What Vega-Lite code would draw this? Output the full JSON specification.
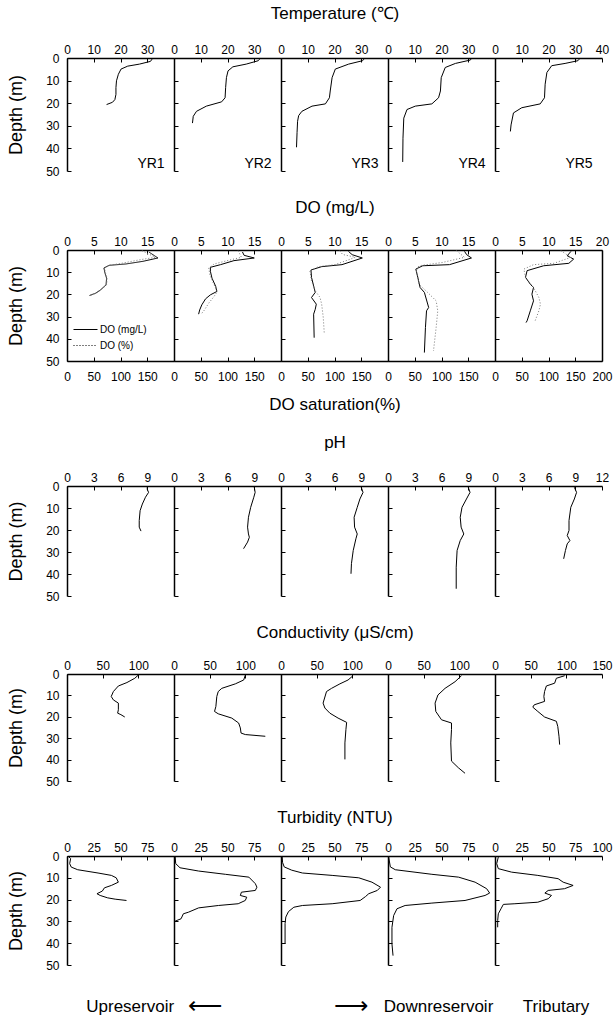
{
"$schema":"https://vega.github.io/schema/vega-lite/v6.json",
"padding":{"left":7,"top":4,"right":4,"bottom":0},
"spacing":21,
"config":{
 "view":{"stroke":null},
 "font":"Liberation Sans",
 "axis":{"domainColor":"black","domainWidth":1.5,"tickColor":"black","tickWidth":1,"tickSize":-4,"labelColor":"black","labelFontSize":12,"labelFont":"Liberation Sans","titleFont":"Liberation Sans","titleFontSize":17,"titleFontWeight":"normal","titleColor":"black","grid":false,"labelFlush":false,"labelOverlap":false},
 "axisX":{"labelPadding":6},
 "axisY":{"labelPadding":12,"titleFontSize":18,"titlePadding":20},
 "text":{"font":"Liberation Sans","color":"black"},
 "legend":{"labelFont":"Liberation Sans","labelColor":"black"}
},
"datasets":{
"temp":[
{"st":"YR1","d":0.5,"v":31.8},{"st":"YR1","d":1.5,"v":31.2},{"st":"YR1","d":2.7,"v":27.1},{"st":"YR1","d":3.6,"v":22.7},{"st":"YR1","d":4.9,"v":20.2},{"st":"YR1","d":7.2,"v":19.2},{"st":"YR1","d":10.1,"v":18.5},{"st":"YR1","d":13.1,"v":18.3},{"st":"YR1","d":16.1,"v":18.3},{"st":"YR1","d":18.4,"v":17.9},{"st":"YR1","d":19.6,"v":17.0},{"st":"YR1","d":20.6,"v":14.8},
{"st":"YR2","d":0.5,"v":32.0},{"st":"YR2","d":1.2,"v":31.5},{"st":"YR2","d":2.7,"v":27.0},{"st":"YR2","d":3.9,"v":22.0},{"st":"YR2","d":5.7,"v":20.2},{"st":"YR2","d":8.7,"v":19.6},{"st":"YR2","d":13.1,"v":19.3},{"st":"YR2","d":17.6,"v":19.1},{"st":"YR2","d":19.4,"v":17.8},{"st":"YR2","d":21.3,"v":12.1},{"st":"YR2","d":23.6,"v":8.4},{"st":"YR2","d":25.8,"v":7.2},{"st":"YR2","d":28.8,"v":6.9},
{"st":"YR3","d":0.5,"v":31.0},{"st":"YR3","d":1.2,"v":30.5},{"st":"YR3","d":2.7,"v":25.3},{"st":"YR3","d":4.9,"v":20.3},{"st":"YR3","d":8.7,"v":19.1},{"st":"YR3","d":14.6,"v":18.4},{"st":"YR3","d":17.6,"v":18.1},{"st":"YR3","d":20.3,"v":16.6},{"st":"YR3","d":21.3,"v":11.6},{"st":"YR3","d":23.6,"v":7.8},{"st":"YR3","d":25.5,"v":6.6},{"st":"YR3","d":28,"v":6.2},{"st":"YR3","d":33,"v":6.0},{"st":"YR3","d":39.5,"v":5.8},
{"st":"YR4","d":0.5,"v":31.0},{"st":"YR4","d":0.9,"v":30.8},{"st":"YR4","d":2.4,"v":25.2},{"st":"YR4","d":4.2,"v":21.4},{"st":"YR4","d":8.7,"v":19.9},{"st":"YR4","d":14.6,"v":19.6},{"st":"YR4","d":17.6,"v":18.9},{"st":"YR4","d":20.3,"v":16.4},{"st":"YR4","d":21.3,"v":10.2},{"st":"YR4","d":22.8,"v":7.1},{"st":"YR4","d":26.6,"v":5.9},{"st":"YR4","d":35.5,"v":5.6},{"st":"YR4","d":46,"v":5.5},
{"st":"YR5","d":0.5,"v":31.5},{"st":"YR5","d":1.2,"v":31.0},{"st":"YR5","d":2.4,"v":26.2},{"st":"YR5","d":3.4,"v":21.2},{"st":"YR5","d":6.4,"v":19.4},{"st":"YR5","d":11.6,"v":18.75},{"st":"YR5","d":17.6,"v":18.5},{"st":"YR5","d":20.3,"v":16.9},{"st":"YR5","d":22,"v":10},{"st":"YR5","d":24.3,"v":6.9},{"st":"YR5","d":29.6,"v":6.0},{"st":"YR5","d":32.5,"v":5.75}
],
"do":[
{"st":"YR1","s":"DO (mg/L)","d":0.9,"v":15.3},{"st":"YR1","s":"DO (mg/L)","d":3.6,"v":17.0},{"st":"YR1","s":"DO (mg/L)","d":5.1,"v":14.2},{"st":"YR1","s":"DO (mg/L)","d":6.3,"v":11.0},{"st":"YR1","s":"DO (mg/L)","d":6.9,"v":7.9},{"st":"YR1","s":"DO (mg/L)","d":8.1,"v":6.9},{"st":"YR1","s":"DO (mg/L)","d":10.4,"v":7.1},{"st":"YR1","s":"DO (mg/L)","d":12.7,"v":7.4},{"st":"YR1","s":"DO (mg/L)","d":15.7,"v":7.3},{"st":"YR1","s":"DO (mg/L)","d":17.9,"v":6.3},{"st":"YR1","s":"DO (mg/L)","d":19.4,"v":5.4},{"st":"YR1","s":"DO (mg/L)","d":20.5,"v":4.2},
{"st":"YR1","s":"DO (%)","d":0.3,"v":140},{"st":"YR1","s":"DO (%)","d":3.3,"v":165},{"st":"YR1","s":"DO (%)","d":4.4,"v":136},{"st":"YR1","s":"DO (%)","d":5.9,"v":104},{"st":"YR1","s":"DO (%)","d":6.9,"v":79},{"st":"YR1","s":"DO (%)","d":8.1,"v":70},{"st":"YR1","s":"DO (%)","d":10.4,"v":72},{"st":"YR1","s":"DO (%)","d":12.7,"v":75},{"st":"YR1","s":"DO (%)","d":15.7,"v":74},{"st":"YR1","s":"DO (%)","d":17.9,"v":64},{"st":"YR1","s":"DO (%)","d":19.4,"v":55},{"st":"YR1","s":"DO (%)","d":20.5,"v":43},
{"st":"YR2","s":"DO (mg/L)","d":0.9,"v":12.8},{"st":"YR2","s":"DO (mg/L)","d":2.4,"v":13.1},{"st":"YR2","s":"DO (mg/L)","d":3.6,"v":15.0},{"st":"YR2","s":"DO (mg/L)","d":4.8,"v":11.2},{"st":"YR2","s":"DO (mg/L)","d":6.6,"v":8.7},{"st":"YR2","s":"DO (mg/L)","d":7.8,"v":6.8},{"st":"YR2","s":"DO (mg/L)","d":9.6,"v":6.8},{"st":"YR2","s":"DO (mg/L)","d":12.7,"v":7.1},{"st":"YR2","s":"DO (mg/L)","d":16.4,"v":7.8},{"st":"YR2","s":"DO (mg/L)","d":18.7,"v":8.0},{"st":"YR2","s":"DO (mg/L)","d":20.2,"v":6.8},{"st":"YR2","s":"DO (mg/L)","d":22,"v":5.9},{"st":"YR2","s":"DO (mg/L)","d":24.7,"v":5.2},{"st":"YR2","s":"DO (mg/L)","d":27,"v":4.8},{"st":"YR2","s":"DO (mg/L)","d":28.9,"v":4.6},
{"st":"YR2","s":"DO (%)","d":0.3,"v":120},{"st":"YR2","s":"DO (%)","d":3.3,"v":126},{"st":"YR2","s":"DO (%)","d":4.4,"v":106},{"st":"YR2","s":"DO (%)","d":6.3,"v":75},{"st":"YR2","s":"DO (%)","d":8.1,"v":65},{"st":"YR2","s":"DO (%)","d":11.1,"v":67},{"st":"YR2","s":"DO (%)","d":15.7,"v":75},{"st":"YR2","s":"DO (%)","d":18.7,"v":81},{"st":"YR2","s":"DO (%)","d":20.9,"v":75},{"st":"YR2","s":"DO (%)","d":23.9,"v":65},{"st":"YR2","s":"DO (%)","d":27,"v":57},{"st":"YR2","s":"DO (%)","d":28.5,"v":52},
{"st":"YR3","s":"DO (mg/L)","d":0.6,"v":12.6},{"st":"YR3","s":"DO (mg/L)","d":2.1,"v":13.3},{"st":"YR3","s":"DO (mg/L)","d":3.6,"v":15.2},{"st":"YR3","s":"DO (mg/L)","d":6.6,"v":11.4},{"st":"YR3","s":"DO (mg/L)","d":7.5,"v":7.6},{"st":"YR3","s":"DO (mg/L)","d":9.0,"v":5.6},{"st":"YR3","s":"DO (mg/L)","d":12.3,"v":5.7},{"st":"YR3","s":"DO (mg/L)","d":19.1,"v":6.4},{"st":"YR3","s":"DO (mg/L)","d":21.4,"v":5.7},{"st":"YR3","s":"DO (mg/L)","d":24.4,"v":6.6},{"st":"YR3","s":"DO (mg/L)","d":26.7,"v":6.4},{"st":"YR3","s":"DO (mg/L)","d":28.9,"v":6.1},{"st":"YR3","s":"DO (mg/L)","d":39.5,"v":6.2},
{"st":"YR3","s":"DO (%)","d":0.3,"v":110},{"st":"YR3","s":"DO (%)","d":2.0,"v":115},{"st":"YR3","s":"DO (%)","d":3.3,"v":139},{"st":"YR3","s":"DO (%)","d":6.6,"v":101},{"st":"YR3","s":"DO (%)","d":7.5,"v":70},{"st":"YR3","s":"DO (%)","d":9.3,"v":54},{"st":"YR3","s":"DO (%)","d":13.9,"v":57},{"st":"YR3","s":"DO (%)","d":18.4,"v":64},{"st":"YR3","s":"DO (%)","d":21.4,"v":73},{"st":"YR3","s":"DO (%)","d":24.4,"v":76},{"st":"YR3","s":"DO (%)","d":30.4,"v":79},{"st":"YR3","s":"DO (%)","d":38,"v":81},
{"st":"YR4","s":"DO (mg/L)","d":0.6,"v":14.3},{"st":"YR4","s":"DO (mg/L)","d":2.1,"v":14.7},{"st":"YR4","s":"DO (mg/L)","d":3.6,"v":15.6},{"st":"YR4","s":"DO (mg/L)","d":6.6,"v":11.5},{"st":"YR4","s":"DO (mg/L)","d":7.1,"v":6.5},{"st":"YR4","s":"DO (mg/L)","d":8.6,"v":5.2},{"st":"YR4","s":"DO (mg/L)","d":11.6,"v":5.5},{"st":"YR4","s":"DO (mg/L)","d":16.9,"v":6.0},{"st":"YR4","s":"DO (mg/L)","d":19.1,"v":6.8},{"st":"YR4","s":"DO (mg/L)","d":25.9,"v":7.6},{"st":"YR4","s":"DO (mg/L)","d":27.4,"v":7.2},{"st":"YR4","s":"DO (mg/L)","d":34.9,"v":7.0},{"st":"YR4","s":"DO (mg/L)","d":46.2,"v":6.8},
{"st":"YR4","s":"DO (%)","d":0.3,"v":128},{"st":"YR4","s":"DO (%)","d":3.3,"v":143},{"st":"YR4","s":"DO (%)","d":5.6,"v":102},{"st":"YR4","s":"DO (%)","d":7.1,"v":58},{"st":"YR4","s":"DO (%)","d":9.3,"v":53},{"st":"YR4","s":"DO (%)","d":15.4,"v":58},{"st":"YR4","s":"DO (%)","d":19.1,"v":74},{"st":"YR4","s":"DO (%)","d":22.9,"v":90},{"st":"YR4","s":"DO (%)","d":27.4,"v":93},{"st":"YR4","s":"DO (%)","d":34.9,"v":90},{"st":"YR4","s":"DO (%)","d":45.5,"v":85},
{"st":"YR5","s":"DO (mg/L)","d":0.6,"v":14.2},{"st":"YR5","s":"DO (mg/L)","d":2.6,"v":13.5},{"st":"YR5","s":"DO (mg/L)","d":4.1,"v":14.7},{"st":"YR5","s":"DO (mg/L)","d":6.0,"v":13.8},{"st":"YR5","s":"DO (mg/L)","d":7.1,"v":9.1},{"st":"YR5","s":"DO (mg/L)","d":9.3,"v":6.0},{"st":"YR5","s":"DO (mg/L)","d":12.3,"v":5.7},{"st":"YR5","s":"DO (mg/L)","d":15.4,"v":6.6},{"st":"YR5","s":"DO (mg/L)","d":16.9,"v":7.2},{"st":"YR5","s":"DO (mg/L)","d":19.9,"v":6.9},{"st":"YR5","s":"DO (mg/L)","d":22.9,"v":7.2},{"st":"YR5","s":"DO (mg/L)","d":27.4,"v":6.6},{"st":"YR5","s":"DO (mg/L)","d":31.9,"v":6.0},{"st":"YR5","s":"DO (mg/L)","d":32.7,"v":5.8},
{"st":"YR5","s":"DO (%)","d":0.3,"v":123},{"st":"YR5","s":"DO (%)","d":3.3,"v":142},{"st":"YR5","s":"DO (%)","d":6.0,"v":110},{"st":"YR5","s":"DO (%)","d":6.6,"v":72},{"st":"YR5","s":"DO (%)","d":8.6,"v":54},{"st":"YR5","s":"DO (%)","d":12.3,"v":57},{"st":"YR5","s":"DO (%)","d":16.9,"v":72},{"st":"YR5","s":"DO (%)","d":21.4,"v":82},{"st":"YR5","s":"DO (%)","d":24.4,"v":85},{"st":"YR5","s":"DO (%)","d":27.4,"v":82},{"st":"YR5","s":"DO (%)","d":31.9,"v":75}
],
"ph":[
{"st":"YR1","d":0.5,"v":9.0},{"st":"YR1","d":1.5,"v":9.0},{"st":"YR1","d":2.9,"v":9.15},{"st":"YR1","d":5.1,"v":8.8},{"st":"YR1","d":8.2,"v":8.45},{"st":"YR1","d":11.2,"v":8.2},{"st":"YR1","d":15.7,"v":8.1},{"st":"YR1","d":18.7,"v":8.1},{"st":"YR1","d":20.5,"v":8.3},
{"st":"YR2","d":0.5,"v":9.0},{"st":"YR2","d":2.9,"v":9.1},{"st":"YR2","d":5.1,"v":8.95},{"st":"YR2","d":9.7,"v":8.6},{"st":"YR2","d":14.2,"v":8.35},{"st":"YR2","d":18.7,"v":8.25},{"st":"YR2","d":21.8,"v":8.35},{"st":"YR2","d":23.3,"v":8.45},{"st":"YR2","d":25.5,"v":8.25},{"st":"YR2","d":28.5,"v":7.8},
{"st":"YR3","d":0.6,"v":9.0},{"st":"YR3","d":2.9,"v":9.2},{"st":"YR3","d":5.9,"v":8.85},{"st":"YR3","d":9.7,"v":8.55},{"st":"YR3","d":14.2,"v":8.2},{"st":"YR3","d":18.7,"v":8.25},{"st":"YR3","d":21.8,"v":8.55},{"st":"YR3","d":24,"v":8.4},{"st":"YR3","d":29.3,"v":8.1},{"st":"YR3","d":35.3,"v":7.9},{"st":"YR3","d":39.9,"v":7.85},
{"st":"YR4","d":0.6,"v":9.0},{"st":"YR4","d":2.9,"v":9.2},{"st":"YR4","d":5.9,"v":8.8},{"st":"YR4","d":9.7,"v":8.3},{"st":"YR4","d":14.2,"v":8.1},{"st":"YR4","d":18.7,"v":8.2},{"st":"YR4","d":21.8,"v":8.5},{"st":"YR4","d":24.8,"v":8.1},{"st":"YR4","d":29.3,"v":7.75},{"st":"YR4","d":36.9,"v":7.65},{"st":"YR4","d":46.7,"v":7.65},
{"st":"YR5","d":0.6,"v":8.9},{"st":"YR5","d":2.9,"v":9.15},{"st":"YR5","d":5.9,"v":8.9},{"st":"YR5","d":9.7,"v":8.5},{"st":"YR5","d":15.7,"v":8.3},{"st":"YR5","d":20.2,"v":8.3},{"st":"YR5","d":22.5,"v":8.1},{"st":"YR5","d":24.8,"v":8.4},{"st":"YR5","d":26.3,"v":8.1},{"st":"YR5","d":29.3,"v":7.9},{"st":"YR5","d":33.1,"v":7.7}
],
"cond":[
{"st":"YR1","d":0.5,"v":100},{"st":"YR1","d":2,"v":95},{"st":"YR1","d":4,"v":84},{"st":"YR1","d":5.6,"v":72},{"st":"YR1","d":8.2,"v":65},{"st":"YR1","d":10.5,"v":62},{"st":"YR1","d":12.1,"v":65},{"st":"YR1","d":13.6,"v":72},{"st":"YR1","d":16.7,"v":72},{"st":"YR1","d":18.3,"v":71},{"st":"YR1","d":19,"v":75.6},{"st":"YR1","d":20.1,"v":81},
{"st":"YR2","d":0.5,"v":100},{"st":"YR2","d":2.8,"v":97.7},{"st":"YR2","d":4.6,"v":86},{"st":"YR2","d":6.7,"v":67},{"st":"YR2","d":8.2,"v":62},{"st":"YR2","d":10.5,"v":60},{"st":"YR2","d":15.2,"v":58.7},{"st":"YR2","d":17.5,"v":56.8},{"st":"YR2","d":18.6,"v":62},{"st":"YR2","d":20.6,"v":81},{"st":"YR2","d":22.9,"v":90.6},{"st":"YR2","d":25.2,"v":93},{"st":"YR2","d":27.6,"v":94},{"st":"YR2","d":28.3,"v":100},{"st":"YR2","d":29.1,"v":128},
{"st":"YR3","d":0.8,"v":101},{"st":"YR3","d":2.8,"v":94},{"st":"YR3","d":4.6,"v":82.6},{"st":"YR3","d":6.7,"v":70.9},{"st":"YR3","d":8.2,"v":63.8},{"st":"YR3","d":13.6,"v":59},{"st":"YR3","d":15.9,"v":61.5},{"st":"YR3","d":18.3,"v":68.5},{"st":"YR3","d":20.6,"v":80},{"st":"YR3","d":22.6,"v":92},{"st":"YR3","d":26,"v":91},{"st":"YR3","d":32.2,"v":89.6},{"st":"YR3","d":39.9,"v":89.6},
{"st":"YR4","d":0.8,"v":103},{"st":"YR4","d":3.6,"v":94},{"st":"YR4","d":6.7,"v":80},{"st":"YR4","d":9.8,"v":70},{"st":"YR4","d":13.6,"v":66},{"st":"YR4","d":17.5,"v":67},{"st":"YR4","d":21.4,"v":75},{"st":"YR4","d":22.9,"v":89},{"st":"YR4","d":26,"v":89},{"st":"YR4","d":32.2,"v":88},{"st":"YR4","d":40.7,"v":89},{"st":"YR4","d":43.8,"v":98.6},{"st":"YR4","d":46.4,"v":108},
{"st":"YR5","d":0.8,"v":97.7},{"st":"YR5","d":2,"v":86},{"st":"YR5","d":4.3,"v":83.6},{"st":"YR5","d":5.6,"v":72},{"st":"YR5","d":8.2,"v":69.5},{"st":"YR5","d":10.5,"v":68.5},{"st":"YR5","d":12.8,"v":69.5},{"st":"YR5","d":14.4,"v":55},{"st":"YR5","d":15.5,"v":53},{"st":"YR5","d":17.5,"v":60},{"st":"YR5","d":20.1,"v":69.5},{"st":"YR5","d":22.1,"v":86},{"st":"YR5","d":24.5,"v":88},{"st":"YR5","d":29.1,"v":89.7},{"st":"YR5","d":33,"v":90.6}
],
"turb":[
{"st":"YR1","d":0,"v":1},{"st":"YR1","d":1.2,"v":3.4},{"st":"YR1","d":3.5,"v":2.5},{"st":"YR1","d":5.1,"v":4},{"st":"YR1","d":6.3,"v":10},{"st":"YR1","d":7.8,"v":29},{"st":"YR1","d":8.9,"v":41.5},{"st":"YR1","d":10,"v":46},{"st":"YR1","d":12,"v":48},{"st":"YR1","d":13.5,"v":41.5},{"st":"YR1","d":14.6,"v":35},{"st":"YR1","d":16.1,"v":33},{"st":"YR1","d":17.3,"v":28},{"st":"YR1","d":18.1,"v":31},{"st":"YR1","d":19.2,"v":38},{"st":"YR1","d":19.8,"v":45},{"st":"YR1","d":20.4,"v":55.6},
{"st":"YR2","d":0,"v":1},{"st":"YR2","d":3.5,"v":1.6},{"st":"YR2","d":5.4,"v":5.6},{"st":"YR2","d":6.9,"v":23},{"st":"YR2","d":8.4,"v":48},{"st":"YR2","d":9.7,"v":70},{"st":"YR2","d":12.7,"v":76},{"st":"YR2","d":14.3,"v":77.5},{"st":"YR2","d":15.8,"v":76},{"st":"YR2","d":16.6,"v":63},{"st":"YR2","d":18.1,"v":62},{"st":"YR2","d":18.9,"v":68},{"st":"YR2","d":20.4,"v":66.6},{"st":"YR2","d":21.9,"v":60},{"st":"YR2","d":22.7,"v":41.5},{"st":"YR2","d":23.8,"v":23},{"st":"YR2","d":25.8,"v":13.4},{"st":"YR2","d":26.5,"v":8.75},{"st":"YR2","d":28.8,"v":6.6},{"st":"YR2","d":29.9,"v":1},
{"st":"YR3","d":0,"v":1},{"st":"YR3","d":3,"v":1.5},{"st":"YR3","d":5,"v":3},{"st":"YR3","d":6.5,"v":10},{"st":"YR3","d":7.8,"v":20},{"st":"YR3","d":8.9,"v":47.8},{"st":"YR3","d":10,"v":72.7},{"st":"YR3","d":12,"v":85},{"st":"YR3","d":14.3,"v":93},{"st":"YR3","d":15.8,"v":90},{"st":"YR3","d":17.3,"v":82},{"st":"YR3","d":18.6,"v":79},{"st":"YR3","d":20.4,"v":74},{"st":"YR3","d":21.9,"v":47.8},{"st":"YR3","d":22.7,"v":20},{"st":"YR3","d":23.5,"v":12},{"st":"YR3","d":25.5,"v":7},{"st":"YR3","d":28,"v":4.5},{"st":"YR3","d":31,"v":3.8},{"st":"YR3","d":40.3,"v":3.8},
{"st":"YR4","d":0.5,"v":0.6},{"st":"YR4","d":5,"v":2.2},{"st":"YR4","d":6.3,"v":6.8},{"st":"YR4","d":8.4,"v":41},{"st":"YR4","d":9.7,"v":66},{"st":"YR4","d":12,"v":81.4},{"st":"YR4","d":15,"v":92.2},{"st":"YR4","d":17,"v":95},{"st":"YR4","d":18.1,"v":90.7},{"st":"YR4","d":20.4,"v":72},{"st":"YR4","d":21.6,"v":41},{"st":"YR4","d":22.7,"v":16},{"st":"YR4","d":24.2,"v":8.4},{"st":"YR4","d":27.3,"v":5.3},{"st":"YR4","d":32.7,"v":3.7},{"st":"YR4","d":40.3,"v":3.7},{"st":"YR4","d":45.7,"v":4.7},
{"st":"YR5","d":0.5,"v":3.1},{"st":"YR5","d":3.5,"v":1.6},{"st":"YR5","d":5.8,"v":3.1},{"st":"YR5","d":7.4,"v":15.5},{"st":"YR5","d":8.9,"v":40},{"st":"YR5","d":10.4,"v":59},{"st":"YR5","d":12,"v":63.7},{"st":"YR5","d":13.5,"v":73},{"st":"YR5","d":15,"v":65},{"st":"YR5","d":15.8,"v":49.7},{"st":"YR5","d":17,"v":46.6},{"st":"YR5","d":18.1,"v":52.8},{"st":"YR5","d":19.6,"v":49.7},{"st":"YR5","d":21.2,"v":40},{"st":"YR5","d":21.9,"v":18.6},{"st":"YR5","d":22.2,"v":7.8},{"st":"YR5","d":24.2,"v":5.6},{"st":"YR5","d":26.5,"v":3.1},{"st":"YR5","d":29.6,"v":2.5},{"st":"YR5","d":32.7,"v":2.5}
]
},
"vconcat":[
{"spacing":0,"bounds":"flush","resolve":{"scale":{"x":"independent","y":"independent"}},
 "hconcat":[
 {"width":107,"height":113,"layer":[
  {"data":{"name":"temp"},"transform":[{"filter":"datum.st=='YR1'"}],"mark":{"type":"line","color":"black","strokeWidth":1},
   "encoding":{"x":{"field":"v","type":"quantitative","scale":{"domain":[0,40],"nice":false},"axis":{"orient":"top","values":[0,10,20,30],"title":null,"labelOverlap":false}},
   "y":{"field":"d","type":"quantitative","scale":{"domain":[0,50],"reverse":true,"nice":false},"axis":{"values":[0,10,20,30,40,50],"title":"Depth (m)","labelOverlap":false}},
   "order":{"field":"d","type":"quantitative"}}},
  {"data":{"values":[{"st":"YR1"}]},"mark":{"type":"text","align":"right","baseline":"middle","fontSize":14},"encoding":{"x":{"datum":36.5,"type":"quantitative","axis":{"orient":"top","values":[0,10,20,30],"title":null,"labelOverlap":false}},"y":{"datum":47,"type":"quantitative","axis":{"values":[0,10,20,30,40,50],"title":"Depth (m)","labelOverlap":false}},"text":{"field":"st","type":"nominal"}}}]},
 {"width":107,"height":113,"layer":[
  {"data":{"name":"temp"},"transform":[{"filter":"datum.st=='YR2'"}],"mark":{"type":"line","color":"black","strokeWidth":1},
   "encoding":{"x":{"field":"v","type":"quantitative","scale":{"domain":[0,40],"nice":false},"axis":{"orient":"top","values":[0,10,20,30],"title":null,"labelOverlap":false}},
   "y":{"field":"d","type":"quantitative","scale":{"domain":[0,50],"reverse":true,"nice":false},"axis":{"values":[0,10,20,30,40,50],"labels":false,"title":null}},
   "order":{"field":"d","type":"quantitative"}}},
  {"data":{"values":[{"st":"YR2"}]},"mark":{"type":"text","align":"right","baseline":"middle","fontSize":14},"encoding":{"x":{"datum":36.5,"type":"quantitative","axis":{"orient":"top","values":[0,10,20,30],"title":null,"labelOverlap":false}},"y":{"datum":47,"type":"quantitative","axis":{"values":[0,10,20,30,40,50],"labels":false,"title":null}},"text":{"field":"st","type":"nominal"}}}]},
 {"width":107,"height":113,"layer":[
  {"data":{"name":"temp"},"transform":[{"filter":"datum.st=='YR3'"}],"mark":{"type":"line","color":"black","strokeWidth":1},
   "encoding":{"x":{"field":"v","type":"quantitative","scale":{"domain":[0,40],"nice":false},"axis":{"orient":"top","values":[0,10,20,30],"title":"Temperature (℃)","titlePadding":21,"labelOverlap":false}},
   "y":{"field":"d","type":"quantitative","scale":{"domain":[0,50],"reverse":true,"nice":false},"axis":{"values":[0,10,20,30,40,50],"labels":false,"title":null}},
   "order":{"field":"d","type":"quantitative"}}},
  {"data":{"values":[{"st":"YR3"}]},"mark":{"type":"text","align":"right","baseline":"middle","fontSize":14},"encoding":{"x":{"datum":36.5,"type":"quantitative","axis":{"orient":"top","values":[0,10,20,30],"title":"Temperature (℃)","titlePadding":21,"labelOverlap":false}},"y":{"datum":47,"type":"quantitative","axis":{"values":[0,10,20,30,40,50],"labels":false,"title":null}},"text":{"field":"st","type":"nominal"}}}]},
 {"width":107,"height":113,"layer":[
  {"data":{"name":"temp"},"transform":[{"filter":"datum.st=='YR4'"}],"mark":{"type":"line","color":"black","strokeWidth":1},
   "encoding":{"x":{"field":"v","type":"quantitative","scale":{"domain":[0,40],"nice":false},"axis":{"orient":"top","values":[0,10,20,30],"title":null,"labelOverlap":false}},
   "y":{"field":"d","type":"quantitative","scale":{"domain":[0,50],"reverse":true,"nice":false},"axis":{"values":[0,10,20,30,40,50],"labels":false,"title":null}},
   "order":{"field":"d","type":"quantitative"}}},
  {"data":{"values":[{"st":"YR4"}]},"mark":{"type":"text","align":"right","baseline":"middle","fontSize":14},"encoding":{"x":{"datum":36.5,"type":"quantitative","axis":{"orient":"top","values":[0,10,20,30],"title":null,"labelOverlap":false}},"y":{"datum":47,"type":"quantitative","axis":{"values":[0,10,20,30,40,50],"labels":false,"title":null}},"text":{"field":"st","type":"nominal"}}}]},
 {"width":107,"height":113,"layer":[
  {"data":{"name":"temp"},"transform":[{"filter":"datum.st=='YR5'"}],"mark":{"type":"line","color":"black","strokeWidth":1},
   "encoding":{"x":{"field":"v","type":"quantitative","scale":{"domain":[0,40],"nice":false},"axis":{"orient":"top","values":[0,10,20,30,40],"title":null,"labelOverlap":false}},
   "y":{"field":"d","type":"quantitative","scale":{"domain":[0,50],"reverse":true,"nice":false},"axis":{"values":[0,10,20,30,40,50],"labels":false,"title":null}},
   "order":{"field":"d","type":"quantitative"}}},
  {"data":{"values":[{"st":"YR5"}]},"mark":{"type":"text","align":"right","baseline":"middle","fontSize":14},"encoding":{"x":{"datum":36.5,"type":"quantitative","axis":{"orient":"top","values":[0,10,20,30,40],"title":null,"labelOverlap":false}},"y":{"datum":47,"type":"quantitative","axis":{"values":[0,10,20,30,40,50],"labels":false,"title":null}},"text":{"field":"st","type":"nominal"}}}]}
 ]},
{"spacing":0,"bounds":"flush","resolve":{"scale":{"x":"independent","y":"independent","strokeDash":"independent"},"legend":{"strokeDash":"independent"}},
 "hconcat":[
 {"width":107,"height":111,"resolve":{"scale":{"x":"independent"}},"layer":[
  {"data":{"name":"do"},"transform":[{"filter":"datum.st=='YR1' && datum.s=='DO (mg/L)'"}],"mark":{"type":"line","color":"black","strokeWidth":1},
   "encoding":{"x":{"field":"v","type":"quantitative","scale":{"domain":[0,20],"nice":false},"axis":{"orient":"top","values":[0,5,10,15],"title":null}},
   "y":{"field":"d","type":"quantitative","scale":{"domain":[0,50],"reverse":true,"nice":false},"axis":{"values":[0,10,20,30,40,50],"title":"Depth (m)","labelOverlap":false}},
   "strokeDash":{"field":"s","type":"nominal","scale":{"domain":["DO (mg/L)","DO (%)"],"range":[[1,0],[1,2]]},"legend":{"orient":"bottom-left","title":null,"labelFontSize":10,"symbolType":"M-1.6,0H1.6","symbolSize":225,"symbolStrokeWidth":1.2,"offset":10,"rowPadding":2,"labelOffset":6}},
   "order":{"field":"d","type":"quantitative"}}},
  {"data":{"name":"do"},"transform":[{"filter":"datum.st=='YR1' && datum.s=='DO (%)'"}],"mark":{"type":"line","color":"#777777","strokeWidth":1},
   "encoding":{"x":{"field":"v","type":"quantitative","scale":{"domain":[0,200],"nice":false},"axis":{"orient":"bottom","values":[0,50,100,150],"title":null,"labelPadding":14}},
   "y":{"field":"d","type":"quantitative","scale":{"domain":[0,50],"reverse":true,"nice":false},"axis":{"values":[0,10,20,30,40,50],"title":"Depth (m)","labelOverlap":false}},
   "strokeDash":{"field":"s","type":"nominal"},
   "order":{"field":"d","type":"quantitative"}}}]},
 {"width":107,"height":111,"resolve":{"scale":{"x":"independent"}},"layer":[
  {"data":{"name":"do"},"transform":[{"filter":"datum.st=='YR2' && datum.s=='DO (mg/L)'"}],"mark":{"type":"line","color":"black","strokeWidth":1},
   "encoding":{"x":{"field":"v","type":"quantitative","scale":{"domain":[0,20],"nice":false},"axis":{"orient":"top","values":[0,5,10,15],"title":null}},
   "y":{"field":"d","type":"quantitative","scale":{"domain":[0,50],"reverse":true,"nice":false},"axis":{"values":[0,10,20,30,40,50],"labels":false,"title":null}},
   "order":{"field":"d","type":"quantitative"}}},
  {"data":{"name":"do"},"transform":[{"filter":"datum.st=='YR2' && datum.s=='DO (%)'"}],"mark":{"type":"line","color":"#777777","strokeWidth":1,"strokeDash":[1,2]},
   "encoding":{"x":{"field":"v","type":"quantitative","scale":{"domain":[0,200],"nice":false},"axis":{"orient":"bottom","values":[0,50,100,150],"title":null,"labelPadding":14}},
   "y":{"field":"d","type":"quantitative","scale":{"domain":[0,50],"reverse":true,"nice":false},"axis":{"values":[0,10,20,30,40,50],"labels":false,"title":null}},
   "order":{"field":"d","type":"quantitative"}}}]},
 {"width":107,"height":111,"resolve":{"scale":{"x":"independent"}},"layer":[
  {"data":{"name":"do"},"transform":[{"filter":"datum.st=='YR3' && datum.s=='DO (mg/L)'"}],"mark":{"type":"line","color":"black","strokeWidth":1},
   "encoding":{"x":{"field":"v","type":"quantitative","scale":{"domain":[0,20],"nice":false},"axis":{"orient":"top","values":[0,5,10,15],"title":"DO (mg/L)","titlePadding":19}},
   "y":{"field":"d","type":"quantitative","scale":{"domain":[0,50],"reverse":true,"nice":false},"axis":{"values":[0,10,20,30,40,50],"labels":false,"title":null}},
   "order":{"field":"d","type":"quantitative"}}},
  {"data":{"name":"do"},"transform":[{"filter":"datum.st=='YR3' && datum.s=='DO (%)'"}],"mark":{"type":"line","color":"#777777","strokeWidth":1,"strokeDash":[1,2]},
   "encoding":{"x":{"field":"v","type":"quantitative","scale":{"domain":[0,200],"nice":false},"axis":{"orient":"bottom","values":[0,50,100,150],"title":"DO saturation(%)","labelPadding":14,"titlePadding":14}},
   "y":{"field":"d","type":"quantitative","scale":{"domain":[0,50],"reverse":true,"nice":false},"axis":{"values":[0,10,20,30,40,50],"labels":false,"title":null}},
   "order":{"field":"d","type":"quantitative"}}}]},
 {"width":107,"height":111,"resolve":{"scale":{"x":"independent"}},"layer":[
  {"data":{"name":"do"},"transform":[{"filter":"datum.st=='YR4' && datum.s=='DO (mg/L)'"}],"mark":{"type":"line","color":"black","strokeWidth":1},
   "encoding":{"x":{"field":"v","type":"quantitative","scale":{"domain":[0,20],"nice":false},"axis":{"orient":"top","values":[0,5,10,15],"title":null}},
   "y":{"field":"d","type":"quantitative","scale":{"domain":[0,50],"reverse":true,"nice":false},"axis":{"values":[0,10,20,30,40,50],"labels":false,"title":null}},
   "order":{"field":"d","type":"quantitative"}}},
  {"data":{"name":"do"},"transform":[{"filter":"datum.st=='YR4' && datum.s=='DO (%)'"}],"mark":{"type":"line","color":"#777777","strokeWidth":1,"strokeDash":[1,2]},
   "encoding":{"x":{"field":"v","type":"quantitative","scale":{"domain":[0,200],"nice":false},"axis":{"orient":"bottom","values":[0,50,100,150],"title":null,"labelPadding":14}},
   "y":{"field":"d","type":"quantitative","scale":{"domain":[0,50],"reverse":true,"nice":false},"axis":{"values":[0,10,20,30,40,50],"labels":false,"title":null}},
   "order":{"field":"d","type":"quantitative"}}}]},
 {"width":107,"height":111,"resolve":{"scale":{"x":"independent"},"axis":{"y":"independent"}},"layer":[
  {"data":{"name":"do"},"transform":[{"filter":"datum.st=='YR5' && datum.s=='DO (mg/L)'"}],"mark":{"type":"line","color":"black","strokeWidth":1},
   "encoding":{"x":{"field":"v","type":"quantitative","scale":{"domain":[0,20],"nice":false},"axis":{"orient":"top","values":[0,5,10,15,20],"title":null}},
   "y":{"field":"d","type":"quantitative","scale":{"domain":[0,50],"reverse":true,"nice":false},"axis":{"values":[0,10,20,30,40,50],"labels":false,"title":null}},
   "order":{"field":"d","type":"quantitative"}}},
  {"data":{"name":"do"},"transform":[{"filter":"datum.st=='YR5' && datum.s=='DO (%)'"}],"mark":{"type":"line","color":"#777777","strokeWidth":1,"strokeDash":[1,2]},
   "encoding":{"x":{"field":"v","type":"quantitative","scale":{"domain":[0,200],"nice":false},"axis":{"orient":"bottom","values":[0,50,100,150,200],"title":null,"labelPadding":14}},
   "y":{"field":"d","type":"quantitative","axis":{"orient":"right","labels":false,"ticks":false,"title":null}},
   "order":{"field":"d","type":"quantitative"}}}]}
 ]},
{"spacing":0,"bounds":"flush","resolve":{"scale":{"x":"independent","y":"independent"}},
 "hconcat":[
 {"width":107,"height":110,"data":{"name":"ph"},"transform":[{"filter":"datum.st=='YR1'"}],"mark":{"type":"line","color":"black","strokeWidth":1},
  "encoding":{"x":{"field":"v","type":"quantitative","scale":{"domain":[0,12],"nice":false},"axis":{"orient":"top","values":[0,3,6,9],"title":null}},
  "y":{"field":"d","type":"quantitative","scale":{"domain":[0,50],"reverse":true,"nice":false},"axis":{"values":[0,10,20,30,40,50],"title":"Depth (m)"}},
  "order":{"field":"d","type":"quantitative"}}},
 {"width":107,"height":110,"data":{"name":"ph"},"transform":[{"filter":"datum.st=='YR2'"}],"mark":{"type":"line","color":"black","strokeWidth":1},
  "encoding":{"x":{"field":"v","type":"quantitative","scale":{"domain":[0,12],"nice":false},"axis":{"orient":"top","values":[0,3,6,9],"title":null}},
  "y":{"field":"d","type":"quantitative","scale":{"domain":[0,50],"reverse":true,"nice":false},"axis":{"values":[0,10,20,30,40,50],"labels":false,"title":null}},
  "order":{"field":"d","type":"quantitative"}}},
 {"width":107,"height":110,"data":{"name":"ph"},"transform":[{"filter":"datum.st=='YR3'"}],"mark":{"type":"line","color":"black","strokeWidth":1},
  "encoding":{"x":{"field":"v","type":"quantitative","scale":{"domain":[0,12],"nice":false},"axis":{"orient":"top","values":[0,3,6,9],"title":"pH","titlePadding":20}},
  "y":{"field":"d","type":"quantitative","scale":{"domain":[0,50],"reverse":true,"nice":false},"axis":{"values":[0,10,20,30,40,50],"labels":false,"title":null}},
  "order":{"field":"d","type":"quantitative"}}},
 {"width":107,"height":110,"data":{"name":"ph"},"transform":[{"filter":"datum.st=='YR4'"}],"mark":{"type":"line","color":"black","strokeWidth":1},
  "encoding":{"x":{"field":"v","type":"quantitative","scale":{"domain":[0,12],"nice":false},"axis":{"orient":"top","values":[0,3,6,9],"title":null}},
  "y":{"field":"d","type":"quantitative","scale":{"domain":[0,50],"reverse":true,"nice":false},"axis":{"values":[0,10,20,30,40,50],"labels":false,"title":null}},
  "order":{"field":"d","type":"quantitative"}}},
 {"width":107,"height":110,"data":{"name":"ph"},"transform":[{"filter":"datum.st=='YR5'"}],"mark":{"type":"line","color":"black","strokeWidth":1},
  "encoding":{"x":{"field":"v","type":"quantitative","scale":{"domain":[0,12],"nice":false},"axis":{"orient":"top","values":[0,3,6,9,12],"title":null}},
  "y":{"field":"d","type":"quantitative","scale":{"domain":[0,50],"reverse":true,"nice":false},"axis":{"values":[0,10,20,30,40,50],"labels":false,"title":null}},
  "order":{"field":"d","type":"quantitative"}}}
 ]},
{"spacing":0,"bounds":"flush","resolve":{"scale":{"x":"independent","y":"independent"}},
 "hconcat":[
 {"width":107,"height":107,"data":{"name":"cond"},"transform":[{"filter":"datum.st=='YR1'"}],"mark":{"type":"line","color":"black","strokeWidth":1},
  "encoding":{"x":{"field":"v","type":"quantitative","scale":{"domain":[0,150],"nice":false},"axis":{"orient":"top","values":[0,50,100],"title":null}},
  "y":{"field":"d","type":"quantitative","scale":{"domain":[0,50],"reverse":true,"nice":false},"axis":{"values":[0,10,20,30,40,50],"title":"Depth (m)"}},
  "order":{"field":"d","type":"quantitative"}}},
 {"width":107,"height":107,"data":{"name":"cond"},"transform":[{"filter":"datum.st=='YR2'"}],"mark":{"type":"line","color":"black","strokeWidth":1},
  "encoding":{"x":{"field":"v","type":"quantitative","scale":{"domain":[0,150],"nice":false},"axis":{"orient":"top","values":[0,50,100],"title":null}},
  "y":{"field":"d","type":"quantitative","scale":{"domain":[0,50],"reverse":true,"nice":false},"axis":{"values":[0,10,20,30,40,50],"labels":false,"title":null}},
  "order":{"field":"d","type":"quantitative"}}},
 {"width":107,"height":107,"data":{"name":"cond"},"transform":[{"filter":"datum.st=='YR3'"}],"mark":{"type":"line","color":"black","strokeWidth":1},
  "encoding":{"x":{"field":"v","type":"quantitative","scale":{"domain":[0,150],"nice":false},"axis":{"orient":"top","values":[0,50,100],"title":"Conductivity (μS/cm)","titlePadding":18}},
  "y":{"field":"d","type":"quantitative","scale":{"domain":[0,50],"reverse":true,"nice":false},"axis":{"values":[0,10,20,30,40,50],"labels":false,"title":null}},
  "order":{"field":"d","type":"quantitative"}}},
 {"width":107,"height":107,"data":{"name":"cond"},"transform":[{"filter":"datum.st=='YR4'"}],"mark":{"type":"line","color":"black","strokeWidth":1},
  "encoding":{"x":{"field":"v","type":"quantitative","scale":{"domain":[0,150],"nice":false},"axis":{"orient":"top","values":[0,50,100],"title":null}},
  "y":{"field":"d","type":"quantitative","scale":{"domain":[0,50],"reverse":true,"nice":false},"axis":{"values":[0,10,20,30,40,50],"labels":false,"title":null}},
  "order":{"field":"d","type":"quantitative"}}},
 {"width":107,"height":107,"data":{"name":"cond"},"transform":[{"filter":"datum.st=='YR5'"}],"mark":{"type":"line","color":"black","strokeWidth":1},
  "encoding":{"x":{"field":"v","type":"quantitative","scale":{"domain":[0,150],"nice":false},"axis":{"orient":"top","values":[0,50,100,150],"title":null}},
  "y":{"field":"d","type":"quantitative","scale":{"domain":[0,50],"reverse":true,"nice":false},"axis":{"values":[0,10,20,30,40,50],"labels":false,"title":null}},
  "order":{"field":"d","type":"quantitative"}}}
 ]},
{"spacing":0,"bounds":"flush","resolve":{"scale":{"x":"independent","y":"independent"}},
 "hconcat":[
 {"width":107,"height":109,"layer":[
  {"data":{"name":"turb"},"transform":[{"filter":"datum.st=='YR1'"}],"mark":{"type":"line","color":"black","strokeWidth":1},
   "encoding":{"x":{"field":"v","type":"quantitative","scale":{"domain":[0,100],"nice":false},"axis":{"orient":"top","values":[0,25,50,75],"title":null,"labelOverlap":false}},
   "y":{"field":"d","type":"quantitative","scale":{"domain":[0,50],"reverse":true,"nice":false},"axis":{"values":[0,10,20,30,40,50],"title":"Depth (m)","labelOverlap":false}},
   "order":{"field":"d","type":"quantitative"}}},
  {"data":{"values":[{"t":"Upreservoir"}]},"mark":{"type":"text","align":"left","baseline":"middle","fontSize":17},"encoding":{"x":{"datum":18,"type":"quantitative","axis":{"orient":"top","values":[0,25,50,75],"title":null,"labelOverlap":false}},"y":{"datum":69.3,"type":"quantitative","axis":{"values":[0,10,20,30,40,50],"title":"Depth (m)","labelOverlap":false}},"text":{"field":"t","type":"nominal"}}}]},
 {"width":107,"height":109,"layer":[
  {"data":{"name":"turb"},"transform":[{"filter":"datum.st=='YR2'"}],"mark":{"type":"line","color":"black","strokeWidth":1},
   "encoding":{"x":{"field":"v","type":"quantitative","scale":{"domain":[0,100],"nice":false},"axis":{"orient":"top","values":[0,25,50,75],"title":null,"labelOverlap":false}},
   "y":{"field":"d","type":"quantitative","scale":{"domain":[0,50],"reverse":true,"nice":false},"axis":{"values":[0,10,20,30,40,50],"labels":false,"title":null}},
   "order":{"field":"d","type":"quantitative"}}},
  {"data":{"values":[{"t":"⟵"}]},"mark":{"type":"text","align":"left","baseline":"middle","fontSize":24},"encoding":{"x":{"datum":13,"type":"quantitative","axis":{"orient":"top","values":[0,25,50,75],"title":null,"labelOverlap":false}},"y":{"datum":69.3,"type":"quantitative","axis":{"values":[0,10,20,30,40,50],"labels":false,"title":null}},"text":{"field":"t","type":"nominal"}}}]},
 {"width":107,"height":109,"layer":[
  {"data":{"name":"turb"},"transform":[{"filter":"datum.st=='YR3'"}],"mark":{"type":"line","color":"black","strokeWidth":1},
   "encoding":{"x":{"field":"v","type":"quantitative","scale":{"domain":[0,100],"nice":false},"axis":{"orient":"top","values":[0,25,50,75],"title":"Turbidity (NTU)","titlePadding":15,"labelOverlap":false}},
   "y":{"field":"d","type":"quantitative","scale":{"domain":[0,50],"reverse":true,"nice":false},"axis":{"values":[0,10,20,30,40,50],"labels":false,"title":null}},
   "order":{"field":"d","type":"quantitative"}}},
  {"data":{"values":[{"t":"⟶"}]},"mark":{"type":"text","align":"left","baseline":"middle","fontSize":24},"encoding":{"x":{"datum":49.5,"type":"quantitative","axis":{"orient":"top","values":[0,25,50,75],"title":"Turbidity (NTU)","titlePadding":15,"labelOverlap":false}},"y":{"datum":69.3,"type":"quantitative","axis":{"values":[0,10,20,30,40,50],"labels":false,"title":null}},"text":{"field":"t","type":"nominal"}}},
  {"data":{"values":[{"t":"Downreservoir"}]},"mark":{"type":"text","align":"left","baseline":"middle","fontSize":17},"encoding":{"x":{"datum":96,"type":"quantitative","axis":{"orient":"top","values":[0,25,50,75],"title":"Turbidity (NTU)","titlePadding":15,"labelOverlap":false}},"y":{"datum":69.3,"type":"quantitative","axis":{"values":[0,10,20,30,40,50],"labels":false,"title":null}},"text":{"field":"t","type":"nominal"}}}]},
 {"width":107,"height":109,"data":{"name":"turb"},"transform":[{"filter":"datum.st=='YR4'"}],"mark":{"type":"line","color":"black","strokeWidth":1},
  "encoding":{"x":{"field":"v","type":"quantitative","scale":{"domain":[0,100],"nice":false},"axis":{"orient":"top","values":[0,25,50,75],"title":null}},
  "y":{"field":"d","type":"quantitative","scale":{"domain":[0,50],"reverse":true,"nice":false},"axis":{"values":[0,10,20,30,40,50],"labels":false,"title":null}},
  "order":{"field":"d","type":"quantitative"}}},
 {"width":107,"height":109,"layer":[
  {"data":{"name":"turb"},"transform":[{"filter":"datum.st=='YR5'"}],"mark":{"type":"line","color":"black","strokeWidth":1},
   "encoding":{"x":{"field":"v","type":"quantitative","scale":{"domain":[0,100],"nice":false},"axis":{"orient":"top","values":[0,25,50,75,100],"title":null,"labelOverlap":false}},
   "y":{"field":"d","type":"quantitative","scale":{"domain":[0,50],"reverse":true,"nice":false},"axis":{"values":[0,10,20,30,40,50],"labels":false,"title":null}},
   "order":{"field":"d","type":"quantitative"}}},
  {"data":{"values":[{"t":"Tributary"}]},"mark":{"type":"text","align":"left","baseline":"middle","fontSize":17},"encoding":{"x":{"datum":26,"type":"quantitative","axis":{"orient":"top","values":[0,25,50,75,100],"title":null,"labelOverlap":false}},"y":{"datum":69.3,"type":"quantitative","axis":{"values":[0,10,20,30,40,50],"labels":false,"title":null}},"text":{"field":"t","type":"nominal"}}}]}
 ]}
]
}
